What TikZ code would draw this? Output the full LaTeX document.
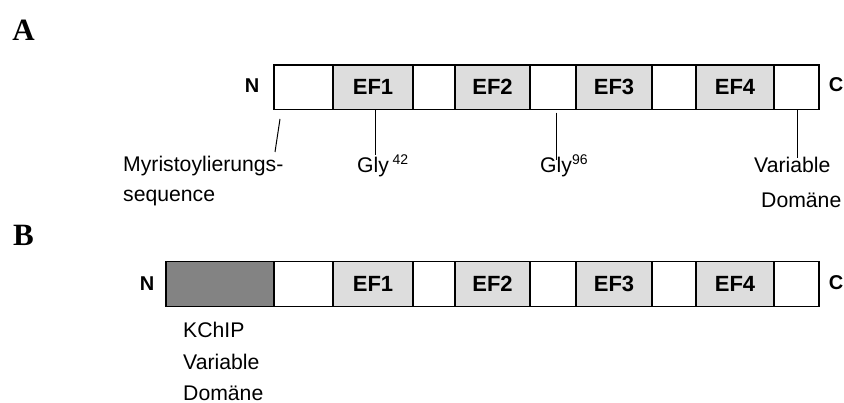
\documentclass[tikz,border=0pt]{standalone}
\usepackage{fontspec}
\setmainfont{Liberation Sans}
\newfontfamily\panelfont{Liberation Serif}
\begin{document}
\begin{tikzpicture}[x=1pt,y=-1pt,
  seg/.style={draw=black,line width=1.3pt,inner sep=0pt,minimum height=44.5pt,fill=white},
  efbox/.style={seg,fill=efgray,font=\fontsize{22}{22}\selectfont\bfseries},
  kbox/.style={seg,fill=kgray},
  term/.style={font=\fontsize{20}{20}\selectfont\bfseries,inner sep=0pt},
  lbl/.style={font=\fontsize{21.2}{21.2}\selectfont,inner sep=0pt,anchor=west},
  panel/.style={font=\fontsize{31}{31}\selectfont\panelfont\bfseries,inner sep=0pt},
  pin/.style={line width=1pt}]
\definecolor{efgray}{HTML}{DDDDDD}
\definecolor{kgray}{HTML}{838383}
\useasboundingbox (0,0) rectangle (844,403);
% panel letters
\node[panel] (pA) at (23.5,30) {A};
\node[panel] (pB) at (23.5,235) {B};
% row A
\node[seg,minimum width=59pt] (a0) at (303.5,87.25) {};
\node[efbox,minimum width=80pt] (a1) at (373,87.25) {EF1};
\node[seg,minimum width=42pt] (a2) at (434,87.25) {};
\node[efbox,minimum width=75pt] (a3) at (492.5,87.25) {EF2};
\node[seg,minimum width=46pt] (a4) at (553,87.25) {};
\node[efbox,minimum width=76pt] (a5) at (614,87.25) {EF3};
\node[seg,minimum width=44pt] (a6) at (674,87.25) {};
\node[efbox,minimum width=78pt] (a7) at (735,87.25) {EF4};
\node[seg,minimum width=45pt] (a8) at (796.5,87.25) {};
\node[term] (aN) at (252,86) {N};
\node[term] (aC) at (836,85) {C};
% labels row A
\node[lbl] (myr) at (123,166) {Myristoylierungs-};
\node[lbl] (seq) at (123,198) {sequence};
\node[lbl] (g42) at (357,166) {Gly\,\raisebox{7.5pt}{\fontsize{14}{14}\selectfont 42}};
\node[lbl] (g96) at (540,166) {Gly\raisebox{7.5pt}{\fontsize{14}{14}\selectfont 96}};
\node[lbl] (var) at (754,165) {Variable};
\node[lbl] (dom) at (761,200) {Domäne};
% pins
\coordinate (m1) at (280,119);
\coordinate (m2) at (275,152);
\draw[pin] (m1) -- (m2);
\draw[pin] (a1.south -| 375,0) -- (375,155);
\coordinate (g1) at (556,112.7);
\coordinate (g2) at (556,160);
\draw[pin] (g1) -- (g2);
\draw[pin] (a8.south -| 797.7,0) -- (797.7,158);
% row B
\node[kbox,minimum width=108pt,minimum height=45pt] (b0) at (220,284.2) {};
\node[seg,minimum width=59pt,minimum height=45pt] (b1) at (303.5,284.2) {};
\node[efbox,minimum width=80pt,minimum height=45pt] (b2) at (373,284.2) {EF1};
\node[seg,minimum width=42pt,minimum height=45pt] (b3) at (434,284.2) {};
\node[efbox,minimum width=75pt,minimum height=45pt] (b4) at (492.5,284.2) {EF2};
\node[seg,minimum width=46pt,minimum height=45pt] (b5) at (553,284.2) {};
\node[efbox,minimum width=76pt,minimum height=45pt] (b6) at (614,284.2) {EF3};
\node[seg,minimum width=44pt,minimum height=45pt] (b7) at (674,284.2) {};
\node[efbox,minimum width=78pt,minimum height=45pt] (b8) at (735,284.2) {EF4};
\node[seg,minimum width=45pt,minimum height=45pt] (b9) at (796.5,284.2) {};
\node[term] (bN) at (147,284) {N};
\node[term] (bC) at (836,283) {C};
\node[lbl] (kc) at (183,330) {KChIP};
\node[lbl] (kv) at (183,362) {Variable};
\node[lbl] (kd) at (183,393) {Domäne};
\end{tikzpicture}
\end{document}
